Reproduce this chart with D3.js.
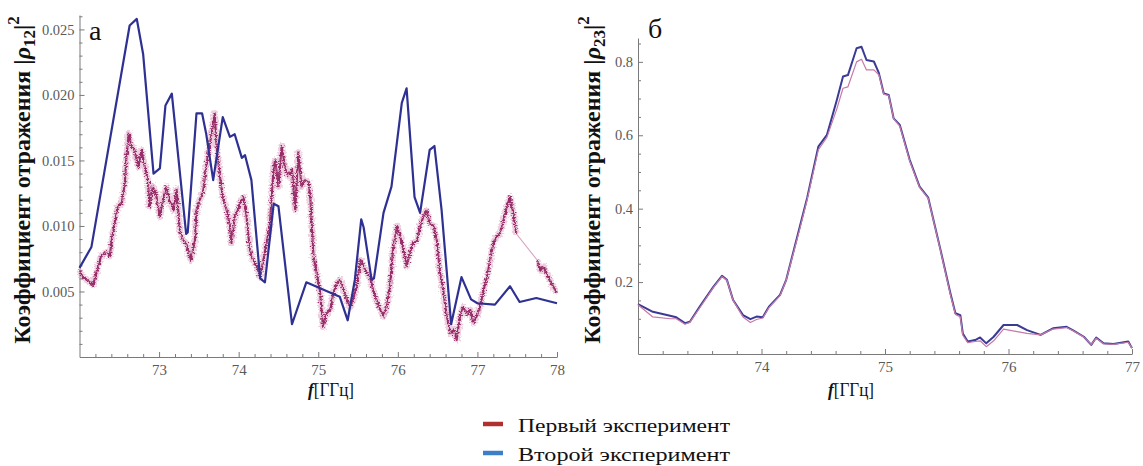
<!DOCTYPE html>
<html>
<head>
<meta charset="utf-8">
<script src="https://cdn.jsdelivr.net/npm/d3@7"></script>
<style>
  html, body { margin: 0; padding: 0; background: #fff; }
  svg { display: block; }
  svg text { font-family: "Liberation Serif", "Tinos", "Times New Roman", "DejaVu Serif", serif; }
  .tick text { fill: #5a5a5a; }
</style>
</head>
<body>
<svg id="chart" width="1143" height="466"></svg>
<script>
// ---- Panel "а": |ρ12|² versus frequency ----
// first experiment (dense, noisy measurement), [GHz, value]
const exp1A = [
  [72.00,0.0066],[72.04,0.0061],[72.11,0.0058],[72.17,0.0055],[72.21,0.0064],[72.27,0.0077],
  [72.34,0.0080],[72.38,0.0077],[72.40,0.0087],[72.44,0.0102],[72.48,0.0115],[72.53,0.0117],
  [72.57,0.0133],[72.59,0.0153],[72.62,0.0171],[72.65,0.0161],[72.69,0.0158],[72.74,0.0145],
  [72.78,0.0158],[72.82,0.0145],[72.86,0.0135],[72.88,0.0115],[72.92,0.0130],[72.96,0.0125],
  [73.01,0.0107],[73.05,0.0120],[73.09,0.0130],[73.13,0.0120],[73.18,0.0112],[73.22,0.0128],
  [73.26,0.0097],[73.30,0.0089],[73.34,0.0087],[73.40,0.0074],[73.45,0.0089],[73.47,0.0112],
  [73.51,0.0120],[73.55,0.0125],[73.59,0.0145],[73.64,0.0163],[73.70,0.0186],[73.72,0.0163],
  [73.76,0.0140],[73.80,0.0122],[73.85,0.0112],[73.89,0.0100],[73.91,0.0087],[73.95,0.0107],
  [73.99,0.0112],[74.02,0.0118],[74.06,0.0122],[74.10,0.0107],[74.14,0.0082],[74.18,0.0074],
  [74.23,0.0069],[74.27,0.0061],[74.31,0.0074],[74.35,0.0087],[74.39,0.0100],[74.44,0.0145],
  [74.46,0.0150],[74.50,0.0130],[74.54,0.0161],[74.58,0.0145],[74.62,0.0138],[74.67,0.0143],
  [74.71,0.0112],[74.75,0.0156],[74.79,0.0130],[74.83,0.0135],[74.88,0.0133],[74.90,0.0122],
  [74.94,0.0077],[74.98,0.0064],[75.02,0.0051],[75.06,0.0023],[75.10,0.0033],[75.15,0.0036],
  [75.19,0.0049],[75.23,0.0056],[75.27,0.0059],[75.32,0.0051],[75.36,0.0044],[75.40,0.0038],
  [75.44,0.0044],[75.48,0.0054],[75.53,0.0074],[75.57,0.0069],[75.61,0.0064],[75.65,0.0061],
  [75.69,0.0051],[75.73,0.0044],[75.78,0.0036],[75.82,0.0031],[75.86,0.0038],[75.90,0.0054],
  [75.94,0.0082],[75.99,0.0100],[76.03,0.0092],[76.07,0.0082],[76.11,0.0069],[76.15,0.0079],
  [76.19,0.0087],[76.24,0.0089],[76.28,0.0100],[76.32,0.0107],[76.36,0.0112],[76.40,0.0102],
  [76.45,0.0100],[76.49,0.0089],[76.53,0.0064],[76.57,0.0051],[76.61,0.0033],[76.66,0.0018],
  [76.70,0.0021],[76.74,0.0013],[76.78,0.0031],[76.82,0.0038],[76.87,0.0033],[76.91,0.0036],
  [76.95,0.0026],[76.99,0.0031],[77.03,0.0038],[77.07,0.0049],[77.12,0.0061],[77.16,0.0074],
  [77.20,0.0087],[77.24,0.0092],[77.28,0.0094],[77.33,0.0105],[77.37,0.0115],[77.41,0.0122],
  [77.45,0.0110],[77.49,0.0094]
];
// sparse tail of the first experiment, after the gap in the record
const exp1ATail = [
  [77.75,0.0074],[77.79,0.0066],[77.83,0.0069],[77.87,0.0064],[77.91,0.0059],[77.95,0.0054],[78.00,0.0049]
];
// second experiment
const freq2A = [72.0,72.15,72.63,72.72,72.80,72.93,73.01,73.08,73.16,73.34,73.36,73.47,73.54,73.59,73.68,
  73.80,73.89,73.95,74.04,74.08,74.16,74.27,74.33,74.44,74.50,74.67,74.85,75.27,75.37,75.46,75.54,75.57,
  75.67,75.70,75.82,75.92,76.05,76.11,76.21,76.28,76.40,76.46,76.55,76.67,76.80,76.92,77.0,77.22,77.41,
  77.53,77.74,78.0];
const exp2A = [0.0068,0.0084,0.0253,0.0258,0.0231,0.0140,0.0144,0.0192,0.0201,0.0094,0.0095,0.0186,0.0186,
  0.0171,0.0135,0.0183,0.0168,0.0170,0.0152,0.0154,0.0135,0.0060,0.0057,0.0117,0.0115,0.0025,0.0057,0.0046,
  0.0028,0.0059,0.0105,0.0099,0.0059,0.0060,0.0110,0.0130,0.0194,0.0205,0.0122,0.0110,0.0158,0.0161,0.0112,
  0.0025,0.0061,0.0044,0.0041,0.0040,0.0054,0.0042,0.0045,0.0041];

// ---- Panel "б": |ρ23|² versus frequency ----
const freqB = [73.0,73.12,73.26,73.31,73.38,73.42,73.50,73.61,73.68,73.72,73.77,73.85,73.91,73.96,74.01,
  74.06,74.15,74.20,74.31,74.37,74.46,74.53,74.61,74.66,74.70,74.77,74.81,74.85,74.91,74.95,74.99,75.03,
  75.07,75.12,75.20,75.28,75.35,75.45,75.53,75.57,75.61,75.63,75.67,75.73,75.77,75.82,75.88,75.96,76.07,
  76.15,76.26,76.36,76.47,76.52,76.61,76.67,76.71,76.77,76.85,76.97,77.0];
const exp1B = [0.138,0.105,0.100,0.100,0.085,0.090,0.130,0.185,0.215,0.205,0.150,0.105,0.090,0.098,0.102,
  0.130,0.163,0.205,0.345,0.425,0.560,0.595,0.672,0.728,0.732,0.800,0.807,0.778,0.778,0.765,0.712,0.708,
  0.645,0.625,0.530,0.458,0.428,0.285,0.165,0.112,0.105,0.055,0.035,0.038,0.040,0.024,0.040,0.072,0.065,
  0.060,0.056,0.072,0.076,0.068,0.050,0.030,0.047,0.032,0.030,0.036,0.020];
const exp2B = [0.140,0.119,0.108,0.104,0.088,0.092,0.133,0.187,0.217,0.206,0.151,0.110,0.099,0.106,0.104,
  0.133,0.165,0.206,0.351,0.430,0.569,0.601,0.696,0.760,0.764,0.837,0.841,0.805,0.801,0.770,0.714,0.710,
  0.646,0.628,0.533,0.460,0.430,0.287,0.169,0.115,0.110,0.060,0.038,0.042,0.049,0.033,0.051,0.083,0.083,
  0.069,0.056,0.074,0.078,0.069,0.051,0.029,0.049,0.033,0.031,0.038,0.020];

// tick values
const ticksXA = [73, 74, 75, 76, 77, 78];
const ticksYA = [0.005, 0.010, 0.015, 0.020, 0.025];
const ticksXB = [74, 75, 76, 77];
const ticksYB = [0.2, 0.4, 0.6, 0.8];

const legendItems = [
  { label: "Первый эксперимент", color: "#b03030" },
  { label: "Второй эксперимент", color: "#3c7ec8" }
];

const svg = d3.select("#chart");

// texture for the noisy measured trace
const defs = svg.append("defs");
const flt = defs.append("filter").attr("id", "jitter")
  .attr("x", "-5%").attr("y", "-10%").attr("width", "110%").attr("height", "120%");
flt.append("feTurbulence").attr("type", "fractalNoise").attr("baseFrequency", "0.5 0.9")
  .attr("numOctaves", 2).attr("seed", 4).attr("result", "n");
flt.append("feDisplacementMap").attr("in", "SourceGraphic").attr("in2", "n")
  .attr("scale", 6).attr("xChannelSelector", "R").attr("yChannelSelector", "G");

function range(a, b, step) {
  const out = [];
  for (let v = a; v <= b + step / 2; v += step) out.push(+v.toFixed(4));
  return out;
}

function drawAxes(x, y, opt) {
  const [x0] = x.range();
  const [y0] = y.range();
  const axisColor = "#7a7a7a";
  // minor ticks
  svg.append("g").attr("transform", `translate(0,${y0})`)
    .call(d3.axisBottom(x).tickValues(opt.minorX).tickSizeInner(-3).tickSizeOuter(0).tickFormat(""))
    .call(g => g.select(".domain").remove())
    .call(g => g.selectAll("line").attr("stroke", axisColor));
  svg.append("g").attr("transform", `translate(${x0},0)`)
    .call(d3.axisLeft(y).tickValues(opt.minorY).tickSizeInner(-3).tickSizeOuter(0).tickFormat(""))
    .call(g => g.select(".domain").remove())
    .call(g => g.selectAll("line").attr("stroke", axisColor));
  // major ticks + labels
  svg.append("g").attr("transform", `translate(0,${y0})`)
    .call(d3.axisBottom(x).tickValues(opt.majorX).tickSizeInner(-5).tickSizeOuter(0).tickPadding(7)
      .tickFormat(d3.format("d")))
    .call(g => g.select(".domain").attr("stroke", axisColor))
    .call(g => g.selectAll("line").attr("stroke", axisColor))
    .call(g => g.selectAll("text").attr("font-size", 15));
  svg.append("g").attr("transform", `translate(${x0},0)`)
    .call(d3.axisLeft(y).tickValues(opt.majorY).tickSizeInner(-5).tickSizeOuter(0).tickPadding(5)
      .tickFormat(opt.fmtY))
    .call(g => g.select(".domain").attr("stroke", axisColor))
    .call(g => g.selectAll("line").attr("stroke", axisColor))
    .call(g => g.selectAll("text").attr("font-size", 14.5));
}

function yTitle(cx, cy, sub) {
  const t = svg.append("text")
    .attr("transform", `translate(${cx},${cy}) rotate(-90)`)
    .attr("text-anchor", "middle")
    .attr("font-weight", "bold").attr("font-size", 24).attr("fill", "#111");
  t.append("tspan").text("Коэффициент  отражения |");
  t.append("tspan").attr("font-style", "italic").text("ρ");
  t.append("tspan").attr("font-size", 17).attr("dy", 5).text(sub);
  t.append("tspan").attr("dy", -5).text("|");
  t.append("tspan").attr("font-size", 17).attr("dy", -11).text("2");
}

function xTitle(cx, cy) {
  const t = svg.append("text").attr("x", cx).attr("y", cy).attr("text-anchor", "middle")
    .attr("font-size", 18).attr("fill", "#111")
    .attr("textLength", 46).attr("lengthAdjust", "spacingAndGlyphs");
  t.append("tspan").attr("font-weight", "bold").attr("font-style", "italic").text("f");
  t.append("tspan").text("[ГГц]");
}

// ===== panel а =====
const xA = d3.scaleLinear().domain([72, 78]).range([79.5, 557]);
const yA = d3.scaleLinear().domain([0, 0.0261]).range([357, 15]);

drawAxes(xA, yA, {
  majorX: ticksXA, minorX: range(72.2, 77.8, 0.2).filter(v => !ticksXA.includes(v)),
  majorY: ticksYA, minorY: range(0.001, 0.026, 0.001).filter(v => !ticksYA.some(t => Math.abs(t - v) < 1e-9)),
  fmtY: d3.format(".3f")
});

const lineA = d3.line().x(d => xA(d[0])).y(d => yA(d[1]));

// thin connector across the whole first record (visible in the gap)
svg.append("path").datum(exp1A.concat(exp1ATail)).attr("d", lineA)
  .attr("fill", "none").attr("stroke", "#d9a3bf").attr("stroke-width", 1.1);
[exp1A, exp1ATail].forEach(seg => {
  svg.append("path").datum(seg).attr("d", lineA)
    .attr("fill", "none").attr("stroke", "#dd9fc0").attr("stroke-width", 6.5)
    .attr("stroke-opacity", 0.5).attr("stroke-linejoin", "round").attr("filter", "url(#jitter)");
  svg.append("path").datum(seg).attr("d", lineA)
    .attr("fill", "none").attr("stroke", "#972f6a").attr("stroke-width", 2.1)
    .attr("stroke-linejoin", "round").attr("filter", "url(#jitter)");
});

svg.append("path").datum(d3.zip(freq2A, exp2A)).attr("d", lineA)
  .attr("fill", "none").attr("stroke", "#2e3192").attr("stroke-width", 2.2).attr("stroke-linejoin", "round");

yTitle(30, 180, "12");
xTitle(331, 396);
svg.append("text").attr("x", 89).attr("y", 40).attr("font-size", 28)
  .attr("fill", "#111").text("а");

// ===== panel б =====
const xB = d3.scaleLinear().domain([73, 77]).range([638, 1132]);
const yB = d3.scaleLinear().domain([0.004, 0.865]).range([354, 38]);

drawAxes(xB, yB, {
  majorX: ticksXB, minorX: range(73.2, 76.8, 0.2).filter(v => !ticksXB.includes(v)),
  majorY: ticksYB, minorY: range(0.05, 0.85, 0.05).filter(v => !ticksYB.some(t => Math.abs(t - v) < 1e-9)),
  fmtY: d3.format(".1f")
});

const lineB = d3.line().x(d => xB(d[0])).y(d => yB(d[1]));
svg.append("path").datum(d3.zip(freqB, exp2B)).attr("d", lineB)
  .attr("fill", "none").attr("stroke", "#3b3b95").attr("stroke-width", 2).attr("stroke-linejoin", "round");
svg.append("path").datum(d3.zip(freqB, exp1B)).attr("d", lineB)
  .attr("fill", "none").attr("stroke", "#c77aa6").attr("stroke-width", 1.2).attr("stroke-linejoin", "round");

yTitle(600, 180, "23");
xTitle(851, 396);
svg.append("text").attr("x", 648).attr("y", 38).attr("font-size", 28)
  .attr("fill", "#111").text("б");

// ===== legend =====
const leg = svg.append("g").selectAll("g").data(legendItems).join("g")
  .attr("transform", (d, i) => `translate(483,${424 + i * 29})`);
leg.append("line").attr("x1", 0).attr("x2", 20).attr("y1", 0).attr("y2", 0)
  .attr("stroke", d => d.color).attr("stroke-width", 4.5);
leg.append("text").attr("x", 35).attr("y", 8).attr("font-size", 19)
  .attr("textLength", 212).attr("lengthAdjust", "spacingAndGlyphs")
  .attr("fill", "#111").text(d => d.label);
</script>
</body>
</html>
